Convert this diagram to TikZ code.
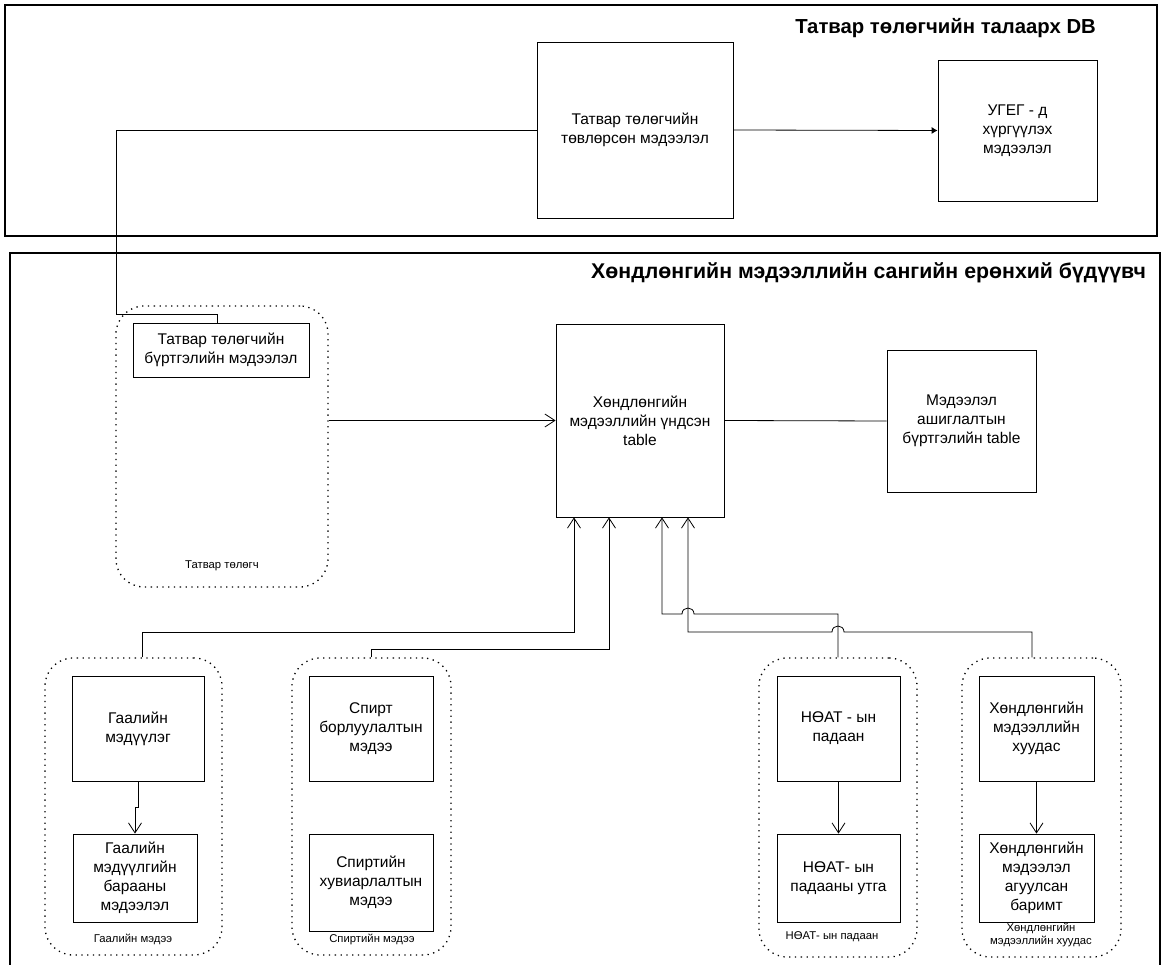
\documentclass[tikz,border=0pt]{standalone}
\usepackage{fontspec}
\setmainfont{Liberation Sans}
\usetikzlibrary{arrows.meta}
\begin{document}
\begin{tikzpicture}[x=1pt,y=-1pt,
  box/.style={draw, line width=0.8pt, align=center, inner sep=2pt,
    font=\fontsize{15.5}{19}\selectfont},
  grp/.style={draw, line width=1.3pt, rounded corners=28pt,
    dash pattern=on 1.3pt off 4.5pt},
  frame/.style={draw, line width=1.3pt},
  ttl/.style={font=\bfseries\fontsize{#1}{24}\selectfont, anchor=base east, inner sep=0pt},
  small/.style={font=\fontsize{11.3}{13.5}\selectfont, align=center, inner sep=0pt},
  conn/.style={line width=0.8pt},
  arr/.style={conn, -{Straight Barb[length=10pt,width=13pt]}},
]
\useasboundingbox (0,0) rectangle (1163,965);

% frames
\path[frame] (5,5) rectangle (1157,236);
\path[frame] (10,253) rectangle (1160,990);
\node[ttl=20.3] (t1) at (1096,34) {Татвар төлөгчийн талаарх DB};
\node[ttl=21.3] (t2) at (1146,279) {Хөндлөнгийн мэдээллийн сангийн ерөнхий бүдүүвч};

% top boxes
\node[box, minimum width=196pt, minimum height=176pt] (top1) at (635,130)
  {Татвар төлөгчийн\\төвлөрсөн мэдээлэл};
\node[box, minimum width=159pt, minimum height=141pt] (ugeg) at (1017.5,130.5)
  {УГЕГ - д\\хүргүүлэх\\мэдээлэл};

% groups
\node[grp, minimum width=212pt, minimum height=281pt] (g0) at (222,446.5) {};
\node[grp, minimum width=177pt, minimum height=297pt] (g2) at (133.5,806.5) {};
\node[grp, minimum width=159pt, minimum height=297pt] (g3) at (371.5,806.5) {};
\node[grp, minimum width=158pt, minimum height=299pt] (g4) at (838,807.5) {};
\node[grp, minimum width=159pt, minimum height=299pt] (g5) at (1041.5,807.5) {};

\node[small] (l0) at (222,566) {Татвар төлөгч};
\node[small] (l2) at (133,939) {Гаалийн мэдээ};
\node[small] (l3) at (372,939) {Спиртийн мэдээ};
\node[small] (l4) at (832,937) {НӨАТ- ын падаан};
\node[small] (l5) at (1041,935) {Хөндлөнгийн\\мэдээллийн хуудас};

% middle boxes
\node[box, minimum width=176pt, minimum height=54pt] (reg) at (221,350)
  {Татвар төлөгчийн\\бүртгэлийн мэдээлэл};
\node[box, minimum width=168pt, minimum height=193pt] (core) at (640,420.5)
  {Хөндлөнгийн\\мэдээллийн үндсэн\\table};
\node[box, minimum width=149pt, minimum height=142pt] (use) at (961.5,421)
  {Мэдээлэл\\ашиглалтын\\бүртгэлийн table};

% bottom boxes
\node[box, minimum width=132pt, minimum height=105pt] (c1) at (138,728.5)
  {Гаалийн\\мэдүүлэг};
\node[box, minimum width=124pt, minimum height=88pt] (c2) at (135,878)
  {Гаалийн\\мэдүүлгийн\\барааны\\мэдээлэл};
\node[box, minimum width=124pt, minimum height=105pt] (s1) at (371,728.5)
  {Спирт\\борлуулалтын\\мэдээ};
\node[box, minimum width=124pt, minimum height=97pt] (s2) at (371,882.5)
  {Спиртийн\\хувиарлалтын\\мэдээ};
\node[box, minimum width=123pt, minimum height=105pt] (v1) at (838.5,728.5)
  {НӨАТ - ын\\падаан};
\node[box, minimum width=123pt, minimum height=88pt] (v2) at (838.5,878)
  {НӨАТ- ын\\падааны утга};
\node[box, minimum width=115pt, minimum height=105pt] (h1) at (1036.5,728.5)
  {Хөндлөнгийн\\мэдээллийн\\хуудас};
\node[box, minimum width=115pt, minimum height=88pt] (h2) at (1036.5,878)
  {Хөндлөнгийн\\мэдээлэл\\агуулсан\\баримт};

% connectors
\draw[conn, -{Latex[length=6pt,width=7pt]}] (top1.east) -- (ugeg.west);
\draw[conn] (top1.west) -- (116,130) -- (116,314) -- (217,314) -- (217,0 |- reg.north);
\draw[arr] (g0.east |- core.west) -- (core.west);
\draw[conn] (core.east) -- (use.west);

\draw[arr] (142,0 |- g2.north) -- (142,632) -- (574,632) -- (574,0 |- core.south);
\draw[arr] (371,0 |- g3.north) -- (371,649) -- (609,649) -- (609,0 |- core.south);
\draw[arr] (g4.north) -- (838,614) -- (694,614)
  .. controls (694,606) and (682,606) .. (682,614) -- (662,614) -- (662,0 |- core.south);
\draw[arr] (1032,0 |- g5.north) -- (1032,632) -- (844,632)
  .. controls (844,624) and (832,624) .. (832,632) -- (688,632) -- (688,0 |- core.south);

\draw[arr] (c1.south) -- ++(0,26) -| (c2.north);
\draw[arr] (v1.south) -- (v2.north);
\draw[arr] (h1.south) -- (h2.north);
\end{tikzpicture}
\end{document}
